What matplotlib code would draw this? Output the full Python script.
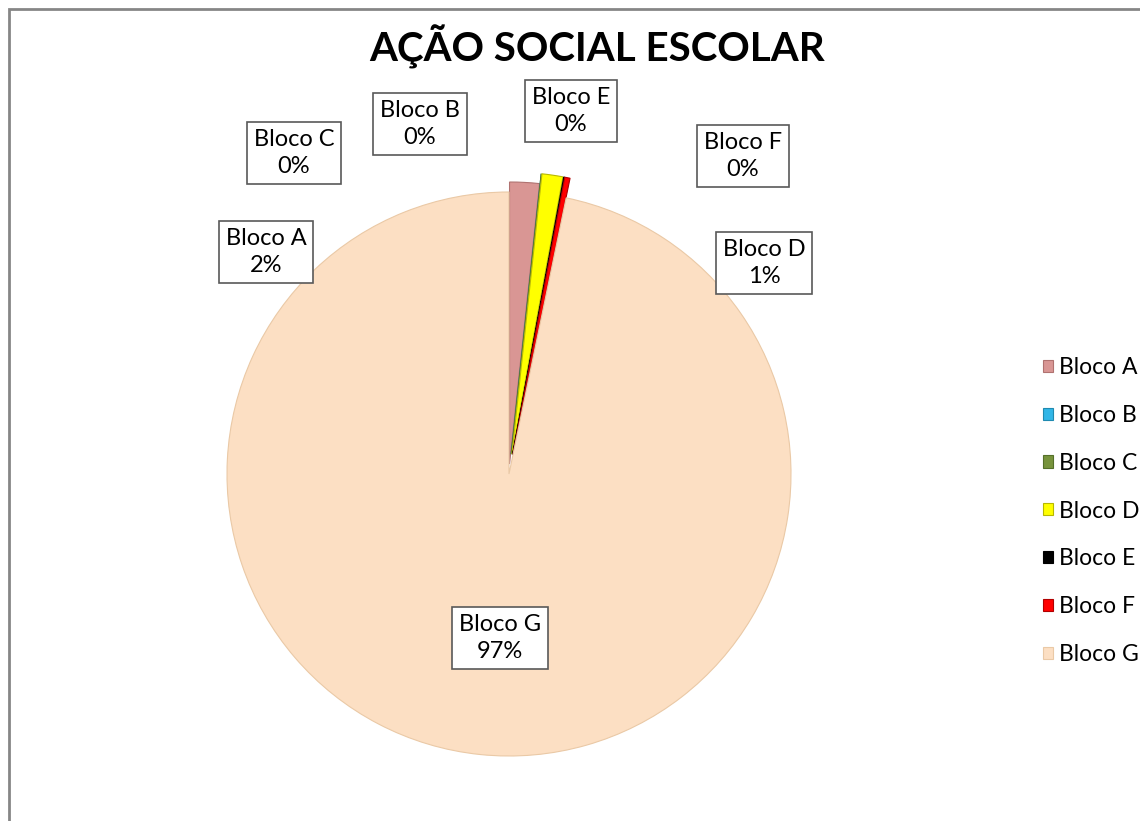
import matplotlib
matplotlib.use("Agg")
import matplotlib.pyplot as plt
from matplotlib.patches import Rectangle

plt.rcParams['font.family'] = ['Lato', 'DejaVu Sans']

# dados
blocos = ['Bloco A', 'Bloco B', 'Bloco C', 'Bloco D', 'Bloco E', 'Bloco F', 'Bloco G']
valores = [1.7, 0.0, 0.0, 1.2, 0.05, 0.3, 96.75]
cores = ['#D99694', '#31B6E7', '#77933C', '#FFFF00', '#000000', '#FF0000', '#FCDFC3']
bordas = ['#B07270', '#1F8AB0', '#55702A', '#B8B800', '#000000', '#B00000', '#EAC9A6']
destaque = [10, 20, 20, 20, 20, 20, 0]  # em pixels

# posicao das caixas de rotulo (pixels)
pos_rotulos = [(266, 252), (420, 124), (294, 153), (764, 263), (571, 111), (743, 156), (500, 638)]

W, H = 1140, 821
fig = plt.figure(figsize=(W/100, H/100), dpi=100)
ax = fig.add_axes([0, 0, 1, 1])

wedges, _ = ax.pie(valores, colors=cores, startangle=90, counterclock=False,
                   center=(509, H-474), radius=282, explode=destaque,
                   wedgeprops=dict(linewidth=0.8))
for w, b in zip(wedges, bordas):
    w.set_edgecolor(b)

ax.set_xlim(0, W)
ax.set_ylim(0, H)
ax.set_aspect('equal')
ax.axis('off')

for nome, v, (px, py) in zip(blocos, valores, pos_rotulos):
    ax.text(px, H-py, '%s\n%d%%' % (nome, round(v)), ha='center', va='center',
            fontsize=17, linespacing=1.3, color='black',
            bbox=dict(boxstyle='square,pad=0.3', facecolor='white',
                      edgecolor='#595959', linewidth=1.2))

fig.text(597/W, 1-47/H, 'AÇÃO SOCIAL ESCOLAR', ha='center', va='center',
         fontsize=29, fontweight='bold')

leg = fig.legend(wedges, blocos, loc='center left',
                 bbox_to_anchor=(1043/W, 1-511/H), frameon=False,
                 fontsize=16.5, handlelength=0.45, handleheight=0.45,
                 handletextpad=0.25, labelspacing=1.17, borderpad=0, borderaxespad=0)

fig.patches.append(Rectangle((9/W, -0.1), 2, 1-9/H+0.1, transform=fig.transFigure,
                             fill=False, edgecolor='#868686', linewidth=2))

fig.savefig('out.png', dpi=100)
